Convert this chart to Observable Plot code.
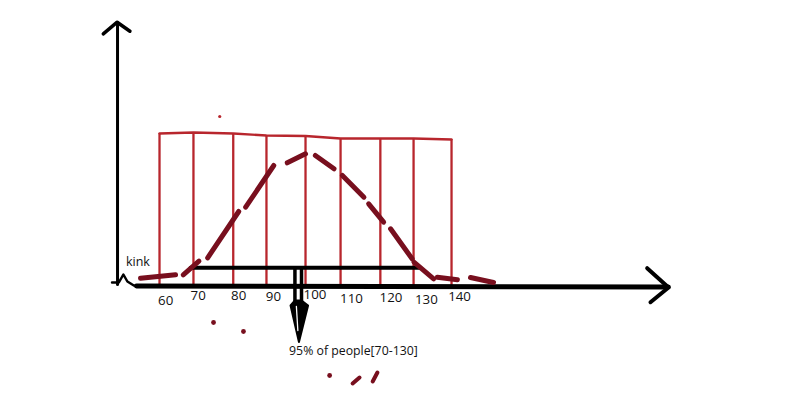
<!DOCTYPE html>
<html><head><meta charset="utf-8">
<script src="https://cdn.jsdelivr.net/npm/d3@7"></script>
<script src="https://cdn.jsdelivr.net/npm/@observablehq/plot@0.6"></script>
<style>body{margin:0;background:#fff;} #chart{width:800px;height:415px;overflow:hidden;}</style>
</head><body><div id="chart"></div>
<script>
// Hand-drawn bins (score positions as drawn) and their top heights
const binEdges = [60, 69.3, 80.2, 89.3, 100, 109.6, 120.5, 129.6, 140];
const binTops  = [152, 153, 152, 150, 149.5, 147, 147, 147, 146];

// Tick labels and where they were written
const tickLabels = ["60","70","80","90","100","110","120","130","140"];
const tickLabelX = [61.7, 70.6, 81.7, 91.2, 102.6, 112.6, 123.4, 133.1, 142.2];
const tickLabelY = [-15, -10.5, -10, -11.7, -9.3, -13, -12.7, -14, -11.7];

// Dashed bell curve, one entry per dash: [x1, y1, x2, y2]
const curveDashes = [
  [54.8, 7.3, 64.4, 10.7],
  [66.5, 10.7, 70.8, 24.3],
  [73.2, 27.7, 81.7, 74],
  [83.6, 78.3, 91.3, 120],
  [95.0, 122.7, 100, 131.7],
  [102.7, 130, 107.8, 116.7],
  [110.1, 110, 116.0, 88.3],
  [117.3, 81.7, 121.4, 63.3],
  [123.3, 56.7, 129.2, 26.7],
  [129.7, 23.3, 135.1, 6.7],
  [136.1, 8.3, 141.6, 5.7],
  [145.2, 8, 151.5, 3]
];

// Stray marks
const strayDots = [[74.8, -37], [83.0, -46], [106.6, -90]];
const strayDashes = [[112.9, -98, 114.8, -92], [118.4, -96, 119.7, -87]];
const redSpeck = [[76.5, 169]];

// Axes / annotations (drawn strokes)
const yAxisShaft = [[48.5, 1], [48.5, 263]];
const yAxisHead = [[44.6, 251.7], [48.4, 263.3], [51.9, 254.3]];
const kink = [[47.0, 3], [48.85, 3], [50.1, 11], [51.2, 4], [52.96, 0], [54.8, -1]];
const xAxisShaft = [[53.7, -0.5], [199.4, -1.5]];
const xAxisHead = [[193.6, 17.3], [199.45, -2], [194.5, -16.7]];
const rangeBar = [[68.5, 17.7], [131.5, 17.7]];
const downShaftL = [[97.1, 17.7], [97.1, -15]];
const downShaftR = [[98.9, 17.7], [98.9, -15]];
const downKite = [[97.1, -15], [95.9, -20], [98.2, -56.5], [100.7, -20], [98.9, -15], [97.1, -15]];
const downKiteInner = [[97.5, -21], [97.9, -45]];

const RED = "#b8262d";
const MAROON = "#780f1e";
const FONT = "'Open Sans', sans-serif";

const bins = binEdges.map((x, i) => ({x, top: binTops[i]}));
const labels = tickLabels.map((t, i) => ({t, x: tickLabelX[i], y: tickLabelY[i]}));
const seg = a => ({x1: a[0], y1: a[1], x2: a[2], y2: a[3]});

const chart = Plot.plot({
  width: 800, height: 415,
  marginTop: 0, marginRight: 0, marginBottom: 0, marginLeft: 0,
  x: {domain: [16.44, 235.6], range: [0, 800], axis: null},
  y: {domain: [-130, 285], range: [415, 0], axis: null},
  style: {background: "#fff"},
  marks: [
    // red histogram frame
    Plot.ruleX(bins, {x: "x", y1: 0, y2: "top", stroke: RED, strokeWidth: 2.3}),
    Plot.line(bins, {x: "x", y: "top", stroke: RED, strokeWidth: 2.3}),
    Plot.dot(redSpeck, {x: d => d[0], y: d => d[1], r: 1.6, fill: RED, stroke: "none"}),
    // y axis
    Plot.line(yAxisShaft, {x: d => d[0], y: d => d[1], stroke: "black", strokeWidth: 3}),
    Plot.line(yAxisHead, {x: d => d[0], y: d => d[1], stroke: "black", strokeWidth: 3.5, strokeLinecap: "round"}),
    Plot.line(kink, {x: d => d[0], y: d => d[1], stroke: "black", strokeWidth: 2.5}),
    // x axis
    Plot.line(xAxisShaft, {x: d => d[0], y: d => d[1], stroke: "black", strokeWidth: 5}),
    Plot.line(xAxisHead, {x: d => d[0], y: d => d[1], stroke: "black", strokeWidth: 4, strokeLinecap: "round"}),
    // 70–130 bar and arrow
    Plot.line(rangeBar, {x: d => d[0], y: d => d[1], stroke: "black", strokeWidth: 4}),
    Plot.line(downShaftL, {x: d => d[0], y: d => d[1], stroke: "black", strokeWidth: 3.5}),
    Plot.line(downShaftR, {x: d => d[0], y: d => d[1], stroke: "black", strokeWidth: 3.5}),
    Plot.line(downKite, {x: d => d[0], y: d => d[1], stroke: "black", fill: "black", strokeWidth: 2, strokeLinejoin: "round"}),
    Plot.line(downKiteInner, {x: d => d[0], y: d => d[1], stroke: "white", strokeWidth: 1.3}),
    // dashed bell curve
    Plot.link(curveDashes.map(seg), {x1: "x1", y1: "y1", x2: "x2", y2: "y2", stroke: MAROON, strokeWidth: 5, strokeLinecap: "round"}),
    // stray marks
    Plot.dot(strayDots, {x: d => d[0], y: d => d[1], r: 2.4, fill: MAROON, stroke: "none"}),
    Plot.link(strayDashes.map(seg), {x1: "x1", y1: "y1", x2: "x2", y2: "y2", stroke: MAROON, strokeWidth: 4, strokeLinecap: "round"}),
    // texts
    Plot.text(labels, {x: "x", y: "y", text: "t", fontSize: 13.3, fill: "#111", fontFamily: FONT}),
    Plot.text(["kink"], {x: 54.1, y: 24, text: d => d, fontSize: 12.5, fill: "#111", fontFamily: FONT}),
    Plot.text(["95% of people[70-130]"], {x: 95.5, y: -66, text: d => d, textAnchor: "start", fontSize: 12.3, fill: "#111", fontFamily: FONT})
  ]
});
document.getElementById("chart").appendChild(chart);
</script>
</body></html>
